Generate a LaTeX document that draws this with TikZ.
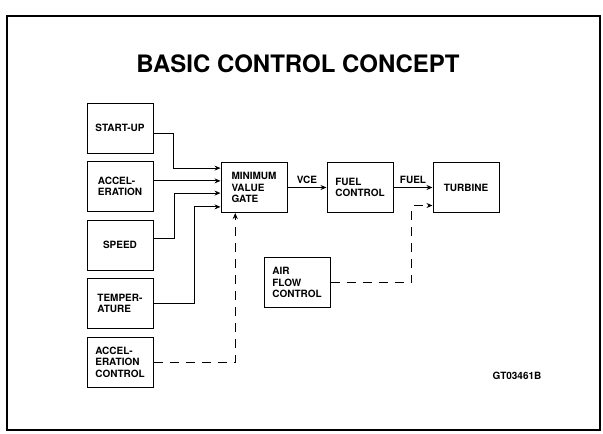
\documentclass[tikz,border=0pt]{standalone}
\usepackage{fontspec}
\setmainfont{TeX Gyre Heros}
\usetikzlibrary{arrows.meta, positioning, calc}

\begin{document}
\begin{tikzpicture}[
    x=1pt, y=-1pt,
    node distance=7.5pt,
    block/.style={rectangle, draw, line width=1pt, minimum width=66pt, minimum height=50pt, align=left, inner sep=2pt, font=\fontsize{10}{11.5}\selectfont\bfseries},
    arrow/.style={-{Stealth[length=6pt, width=5pt]}, line width=0.9pt},
    dasharrow/.style={arrow, dash pattern=on 9pt off 7pt},
    sigtext/.style={font=\fontsize{10}{12}\selectfont\bfseries}
]
\useasboundingbox (0,0) rectangle (603,434);
\draw[line width=1.1pt] (7,16) rectangle (600,430);

\node[font=\fontsize{24}{28}\selectfont\bfseries] (title) at (298,64) {BASIC CONTROL CONCEPT};

% limit schedules
\node[block] (startup) at (120,128) {START-UP};
\node[block, below=of startup] (accel) {ACCEL-\\ERATION};
\node[block, below=of accel] (speed) {SPEED};
\node[block, below=of speed] (temp) {TEMPER-\\ATURE};
\node[block, below=of temp] (accelctl) {ACCEL-\\ERATION\\CONTROL};

% main chain
\node[block] (mvg) at (254,187.5) {MINIMUM\\VALUE\\GATE};
\node[block, right=39pt of mvg] (fuel) {FUEL\\CONTROL};
\node[block, right=39pt of fuel] (turbine) {TURBINE};
\node[block] (airflow) at (297,282.5) {AIR\\FLOW\\CONTROL};

\coordinate (in1) at ($(mvg.north west)!0.12!(mvg.south west)$);
\coordinate (in2) at ($(mvg.north west)!0.37!(mvg.south west)$);
\coordinate (in3) at ($(mvg.north west)!0.61!(mvg.south west)$);
\coordinate (in4) at ($(mvg.north west)!0.88!(mvg.south west)$);
\coordinate (gin) at ($(mvg.south west)!0.22!(mvg.south east)$);
\coordinate (tin) at ($(turbine.west)+(0,18)$);

\draw[arrow] ($(startup.east)+(0,5)$) -- ++(20,0) |- (in1);
\draw[arrow] (accel.east |- in2) -- (in2);
\draw[arrow] ($(speed.east)+(0,-7)$) -- ++(21,0) |- (in3);
\draw[arrow] (temp.east) -- ++(41,0) |- (in4);
\draw[dasharrow] (accelctl.east) -| (gin);

\draw[arrow] (mvg.east) -- node[above, sigtext] {VCE} (fuel.west);
\draw[arrow] (fuel.east) -- node[above, sigtext] {FUEL} (turbine.west |- fuel.east);
\draw[dasharrow] (airflow.east) -- ++(81,0) |- (tin);

\node[sigtext] (code) at (517,376) {GT03461B};

\end{tikzpicture}
\end{document}
